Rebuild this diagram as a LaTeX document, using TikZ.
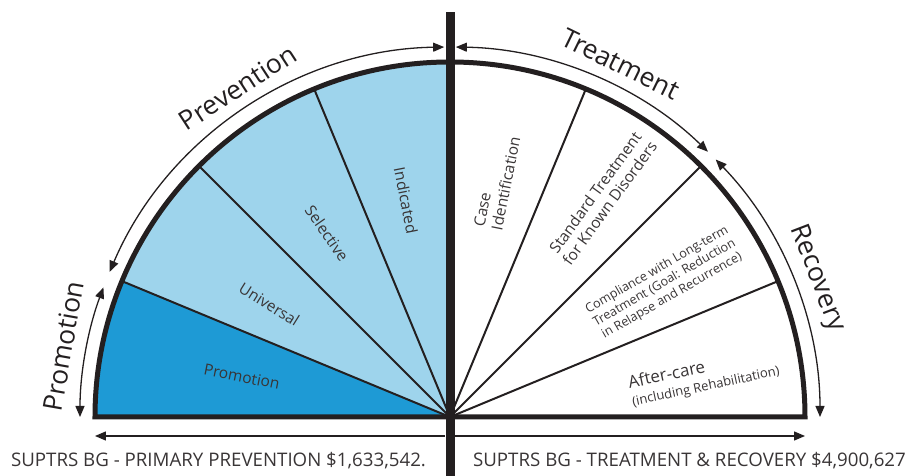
\documentclass[tikz,border=0pt]{standalone}
\usepackage{fontspec}
\setmainfont{Open Sans}
\usetikzlibrary{arrows.meta}
\definecolor{ink}{HTML}{231F20}
\definecolor{promoblue}{HTML}{1E9AD5}
\definecolor{prevblue}{HTML}{9ED4EC}

\begin{document}
\begin{tikzpicture}[x=1pt,y=1pt,
    wedge/.style={draw=ink,line width=2pt},
    rim/.style={draw=ink,line width=5pt,line join=miter},
    span/.style={draw=ink,line width=1.3pt,{Triangle[length=11pt,width=9pt]}-{Triangle[length=11pt,width=9pt]}},
    oneway/.style={draw=ink,line width=1.3pt,-{Triangle[length=11pt,width=9pt]}},
    biglabel/.style={text=ink,font=\fontsize{26.5}{30}\selectfont,inner sep=0pt},
    seglabel/.style={text=ink!90,font=\fontsize{15.5}{18}\selectfont,align=center,inner sep=0pt},
    smalllabel/.style={text=ink!90,font=\fontsize{12.6}{15}\selectfont,align=center,inner sep=0pt},
    budget/.style={text=ink!90,font=\fontsize{18.7}{22}\selectfont,inner sep=0pt}]
    \useasboundingbox (-450,-59) rectangle (473,417);
    %fills of the prevention half
    \fill[promoblue] (0,0) -- (180:355) arc[start angle=180,end angle=157.5,radius=355] -- cycle;
    \fill[prevblue] (0,0) -- (157.5:355) arc[start angle=157.5,end angle=90,radius=355] -- cycle;
    \foreach \a in {22.5,45,67.5,112.5,135,157.5}
        \draw[wedge] (0,0) -- (\a:355);
    \draw[rim] (-355,0) arc[start angle=180,end angle=0,radius=355] -- cycle;
    \fill[ink] (-4.5,-59) rectangle (4.5,405);

    %arcs round the rim
    \coordinate (promoA) at (159.5:370);
    \coordinate (prevA) at (156.9:370);
    \coordinate (treatA) at (89.1:370);
    \coordinate (recovA) at (44.1:370);
    \draw[span] (promoA) arc[start angle=159.5,end angle=180,radius=370];
    \draw[span] (prevA) arc[start angle=156.9,end angle=90.9,radius=370];
    \draw[span] (treatA) arc[start angle=89.1,end angle=45.8,radius=370];
    \draw[span] (recovA) arc[start angle=44.1,end angle=0,radius=370];

    \node[biglabel,rotate=80] (promolbl) at (169.6:393) {Promotion};
    \node[biglabel,rotate=33] (prevlbl) at (122.8:392) {Prevention};
    \node[biglabel,rotate=-26] (treatlbl) at (64.2:392) {Treatment};
    \node[biglabel,rotate=-69] (recovlbl) at (20.7:392) {Recovery};

    %segment names
    \node[seglabel,rotate=-11.25] (promoseg) at (169:212) {Promotion};
    \node[seglabel,rotate=-32] (univseg) at (148:213) {Universal};
    \node[seglabel,rotate=-55] (selseg) at (123.8:221) {Selective};
    \node[seglabel,rotate=-78.75] (indseg) at (101.5:221) {Indicated};
    \node[seglabel,rotate=78.75,align=left] (caseseg) at (78.7:240) {Case\\Identification};
    \node[seglabel,rotate=54] (stdseg) at (55.2:267) {Standard Treatment\\for Known Disorders};
    \node[smalllabel,rotate=30] (compseg) at (32:253) {Compliance with Long-term\\Treatment (Goal: Reduction\\in Relapse and Recurrence)};
    \node[seglabel,rotate=12,align=left,font=\fontsize{17}{18}\selectfont] (afterseg) at (9:257) {After-care\\{\fontsize{13}{15}\selectfont(including Rehabilitation)}};

    %budget lines
    \coordinate (leftend) at (-355,-19);
    \coordinate (barL) at (-5,-19);
    \coordinate (barR) at (4,-19);
    \coordinate (rightend) at (355,-19);
    \draw[oneway] (barL) -- (leftend);
    \draw[oneway] (barR) -- (rightend);
    \node[budget,anchor=base] (primary) at (-231.5,-50) {SUPTRS BG - PRIMARY PREVENTION \$1,633,542.};
    \node[budget,anchor=base] (treatrec) at (239.5,-50) {SUPTRS BG - TREATMENT \& RECOVERY \$4,900,627};
\end{tikzpicture}
\end{document}
